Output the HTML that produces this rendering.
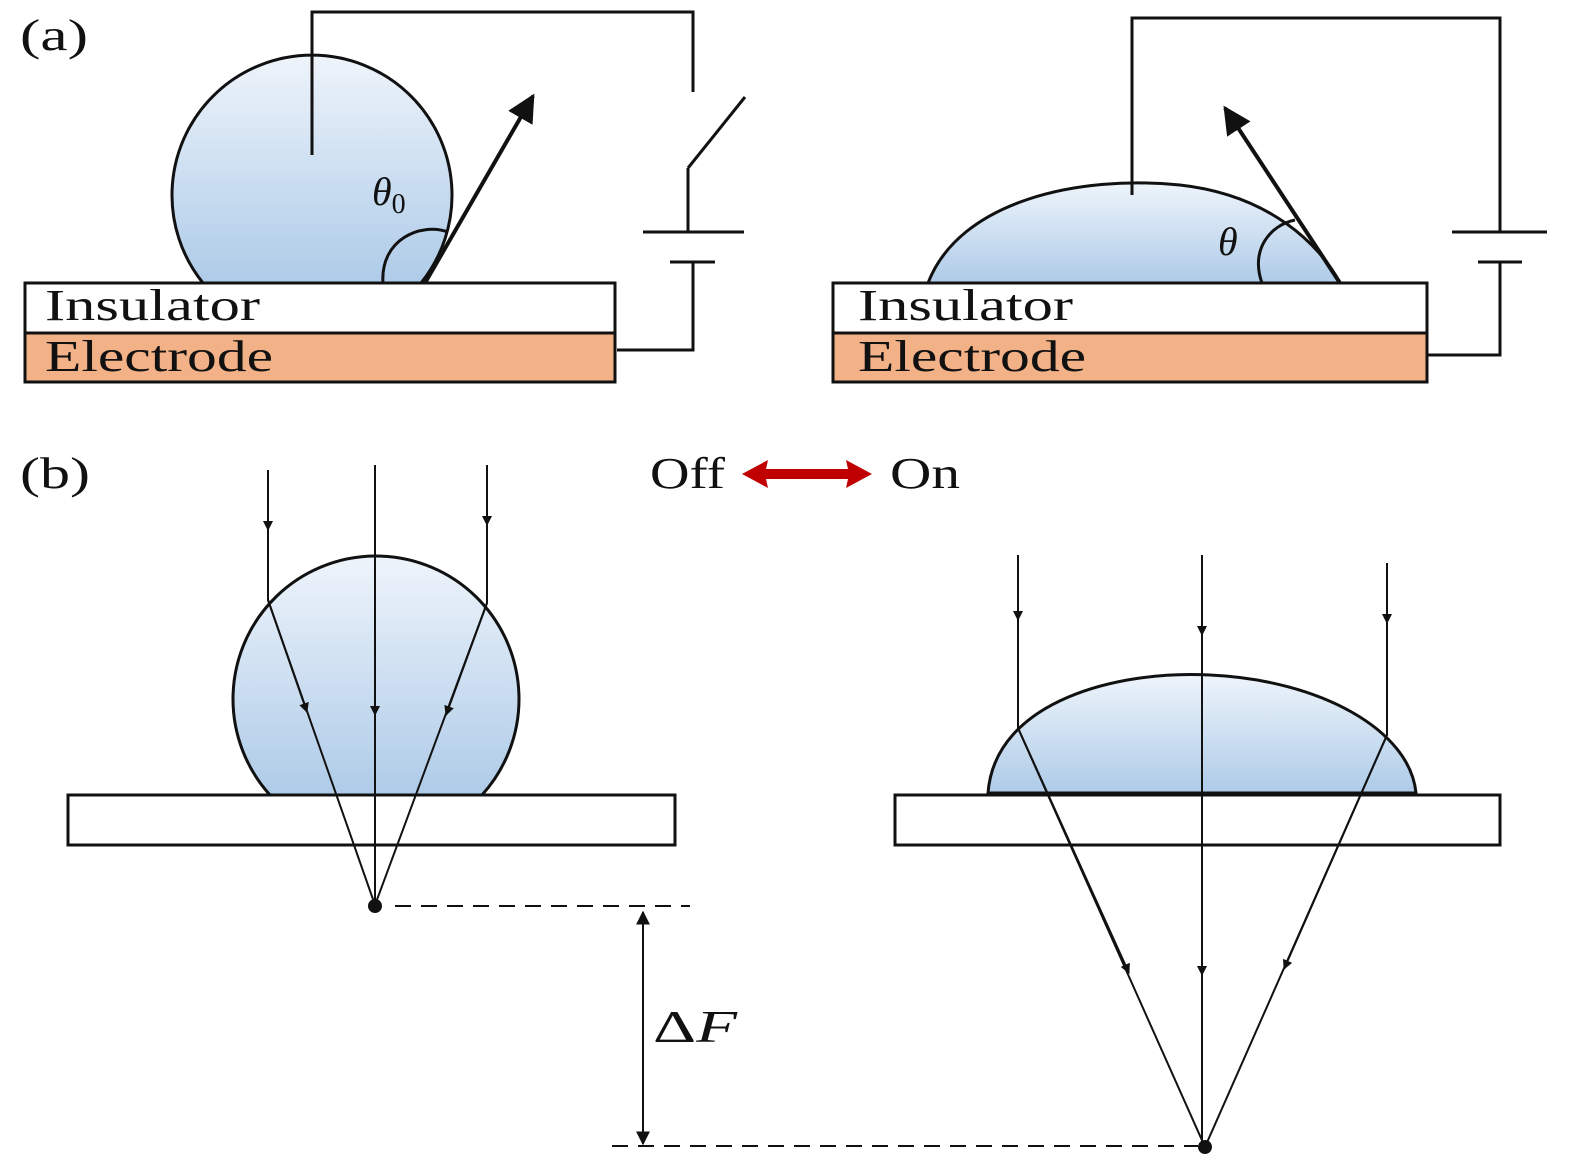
<!DOCTYPE html>
<html><head><meta charset="utf-8"><style>
html,body{margin:0;padding:0;background:#fff;width:1575px;height:1171px;overflow:hidden}
svg{display:block}
text{font-family:"Liberation Serif",serif;fill:#111}
</style></head><body>
<svg width="1575" height="1171" viewBox="0 0 1575 1171" xmlns="http://www.w3.org/2000/svg">
<defs>
<linearGradient id="g" x1="0" y1="0" x2="0" y2="1">
<stop offset="0" stop-color="#eef4fb"/><stop offset="1" stop-color="#aecbe8"/></linearGradient>
<marker id="ah" viewBox="0 0 10 10" refX="9" refY="5" markerWidth="7" markerHeight="7" orient="auto"><path d="M0,0L10,5L0,10z" fill="#111"/></marker>
<marker id="ahb" viewBox="0 0 10 10" refX="9" refY="5" markerWidth="5" markerHeight="5" orient="auto"><path d="M0,0L10,5L0,10z" fill="#111"/></marker>
</defs>
<g stroke="#111" stroke-width="3" fill="none">
<path d="M203,283 A140,140 0 1 1 421,283 Z" fill="url(#g)"/>
<polyline points="312,155 312,12 693,12 693,92"/>
<line x1="688" y1="168" x2="745" y2="97"/>
<line x1="688" y1="168" x2="688" y2="232"/>
<line x1="643" y1="232" x2="744" y2="232"/>
<line x1="670" y1="262" x2="715" y2="262"/>
<polyline points="693,262 693,350 617,350"/>
<path d="M383,283 C380,240 420,222 448,232"/>
<rect x="25" y="283" width="590" height="50" fill="#fff"/>
<rect x="25" y="333" width="590" height="49" fill="#f2b186"/>
<line x1="425" y1="283" x2="533" y2="96" stroke-width="4" marker-end="url(#ah)"/>
<path d="M928,283 C960,200 1080,175 1180,185 C1270,195 1320,245 1340,283 Z" fill="url(#g)"/>
<polyline points="1132,195 1132,18 1500,18 1500,232"/>
<line x1="1452" y1="232" x2="1547" y2="232"/>
<line x1="1478" y1="262" x2="1522" y2="262"/>
<polyline points="1500,262 1500,355 1427,355"/>
<path d="M1262,283 C1250,250 1270,225 1295,220"/>
<rect x="833" y="283" width="594" height="50" fill="#fff"/>
<rect x="833" y="333" width="594" height="49" fill="#f2b186"/>
<line x1="1340" y1="283" x2="1225" y2="108" stroke-width="4" marker-end="url(#ah)"/>
</g>
<text x="20" y="50" font-size="44" textLength="68" lengthAdjust="spacingAndGlyphs">(a)</text>
<text x="372" y="205" font-size="40" font-style="italic">θ<tspan font-size="28" font-style="normal" dy="8">0</tspan></text>
<text x="1218" y="255" font-size="40" font-style="italic">θ</text>
<text x="45" y="320" font-size="44" textLength="215" lengthAdjust="spacingAndGlyphs">Insulator</text>
<text x="45" y="371" font-size="44" textLength="228" lengthAdjust="spacingAndGlyphs">Electrode</text>
<text x="858" y="320" font-size="44" textLength="215" lengthAdjust="spacingAndGlyphs">Insulator</text>
<text x="858" y="371" font-size="44" textLength="228" lengthAdjust="spacingAndGlyphs">Electrode</text>
<text x="20" y="488" font-size="44" textLength="70" lengthAdjust="spacingAndGlyphs">(b)</text>
<text x="650" y="488" font-size="44" textLength="75" lengthAdjust="spacingAndGlyphs">Off</text>
<text x="890" y="488" font-size="44" textLength="70" lengthAdjust="spacingAndGlyphs">On</text>
<path d="M742,474 L768,460 L766,469 L848,469 L846,460 L872,474 L846,488 L848,479 L766,479 L768,488 Z" fill="#c00000"/>
<g stroke="#111" stroke-width="3" fill="none">
<path d="M270,795 A143,143 0 1 1 482,795 Z" fill="url(#g)"/>
<rect x="68" y="795" width="607" height="50" fill="none"/>
<path d="M988,793 C995,700 1120,670 1210,675 C1320,680 1410,730 1416,793 Z" fill="url(#g)"/>
<rect x="895" y="795" width="605" height="50"/>
</g>
<g stroke="#111" stroke-width="2" fill="none">
<polyline points="268,470 268,600 375,905"/>
<line x1="375" y1="465" x2="375" y2="905"/>
<polyline points="487,465 487,603 375,905"/>
<line x1="268" y1="470" x2="268" y2="530" marker-end="url(#ahb)"/>
<line x1="487" y1="465" x2="487" y2="525" marker-end="url(#ahb)"/>
<line x1="268" y1="600" x2="307" y2="712" marker-end="url(#ahb)"/>
<line x1="375" y1="600" x2="375" y2="715" marker-end="url(#ahb)"/>
<line x1="487" y1="603" x2="446" y2="715" marker-end="url(#ahb)"/>
<polyline points="1018,555 1018,728 1205,1147"/>
<line x1="1202" y1="555" x2="1202" y2="1147"/>
<polyline points="1387,563 1387,735 1205,1147"/>
<line x1="1018" y1="555" x2="1018" y2="620" marker-end="url(#ahb)"/>
<line x1="1202" y1="555" x2="1202" y2="635" marker-end="url(#ahb)"/>
<line x1="1387" y1="563" x2="1387" y2="623" marker-end="url(#ahb)"/>
<line x1="1018" y1="728" x2="1129" y2="973" marker-end="url(#ahb)"/>
<line x1="1202" y1="728" x2="1202" y2="975" marker-end="url(#ahb)"/>
<line x1="1387" y1="735" x2="1284" y2="969" marker-end="url(#ahb)"/>
<line x1="395" y1="906" x2="690" y2="906" stroke-dasharray="16,10"/>
<line x1="612" y1="1146" x2="1198" y2="1146" stroke-dasharray="16,10"/>
<line x1="643" y1="1028" x2="643" y2="912" marker-end="url(#ah)"/>
<line x1="643" y1="1028" x2="643" y2="1144" marker-end="url(#ah)"/>
</g>
<circle cx="375" cy="906" r="7" fill="#111"/>
<circle cx="1205" cy="1147" r="7" fill="#111"/>
<text x="653" y="1042" font-size="46" textLength="84" lengthAdjust="spacingAndGlyphs">Δ<tspan font-style="italic">F</tspan></text>
</svg>
</body></html>
